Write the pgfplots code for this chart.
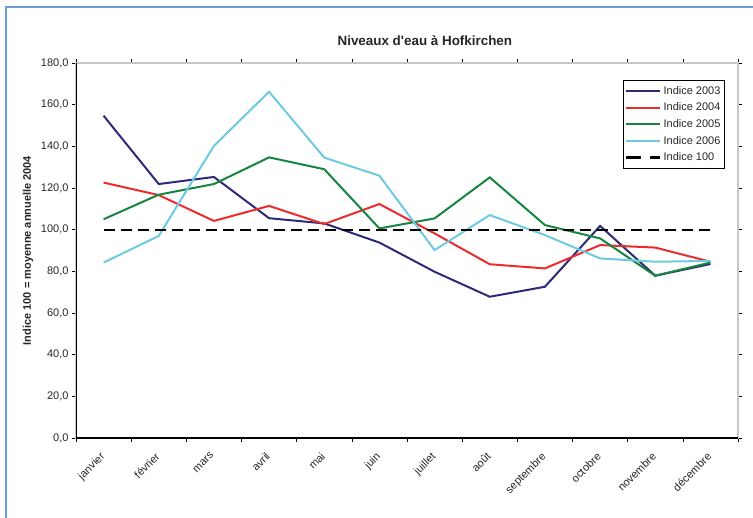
\documentclass[border=0pt]{standalone}
\usepackage{fontspec}
\setmainfont{Liberation Sans}[Ligatures=TeXOff]
\usepackage{pgfplots}
\pgfplotsset{compat=1.18}
\definecolor{c2003}{RGB}{46,42,120}
\definecolor{c2004}{RGB}{238,43,43}
\definecolor{c2005}{RGB}{21,133,63}
\definecolor{c2006}{RGB}{109,202,224}
\definecolor{frameblue}{RGB}{106,159,212}
\begin{document}
\begin{tikzpicture}
\useasboundingbox (-76bp,-80bp) rectangle (677bp,438bp);
\draw[frameblue, line width=1.5bp] (-70bp,-82bp) -- (-70bp,431bp) -- (680bp,431bp);
\begin{axis}[
  at={(0,0)}, anchor=south west,
  scale only axis, width=662bp, height=375bp,
  xmin=-0.5, xmax=11.5, ymin=0, ymax=180,
  xtick={0,...,11},
  xticklabels={janvier,février,mars,avril,mai,juin,juillet,août,septembre,octobre,novembre,décembre},
  minor xtick={-0.5,0.5,...,11.5},
  ytick={0,20,...,180},
  every major x tick/.append style={draw=none},
  tick align=outside,
  major tick length=4bp, minor tick length=4bp,
  tick style={black, line width=0.6bp},
  axis line style={draw=black!22, line width=1.2bp},
  /pgf/number format/assume math mode=true,
  yticklabel style={/pgf/number format/.cd, fixed, fixed zerofill, precision=1, use comma},
  tick label style={font=\fontsize{11bp}{13bp}\selectfont, text=black!85},
  xticklabel style={xshift=-4bp, yshift=-8bp, rotate=45, anchor=north east, inner sep=1bp},
  title={\textbf{Niveaux d'eau à Hofkirchen}},
  title style={at={(0.527,1.043)}, anchor=center, font=\fontsize{13.4bp}{15bp}\selectfont, text=black!85},
  ylabel={\textbf{Indice 100 = moyenne annuelle 2004}},
  ylabel style={at={(axis description cs:-0.0725,0.5)}, anchor=center, font=\fontsize{11bp}{13bp}\selectfont, text=black!85},
  legend style={at={(rel axis cs:0.980,0.955)}, anchor=north east, draw=black, line width=0.6bp,
    font=\fontsize{11bp}{13bp}\selectfont, inner xsep=2bp, inner ysep=4bp, row sep=3.2bp, text=black!85},
  legend cell align=left,
  legend image code/.code={\draw[#1] (0bp,0bp) -- (34bp,0bp);},
]
\addplot[c2003, line width=2bp] coordinates {(0,154.7) (1,121.9) (2,125.3) (3,105.5) (4,103.0) (5,93.8) (6,79.8) (7,67.8) (8,72.6) (9,101.8) (10,77.9) (11,83.5)};
\addlegendentry{Indice 2003}
\addplot[c2004, line width=2bp] coordinates {(0,122.6) (1,116.6) (2,104.2) (3,111.4) (4,102.7) (5,112.3) (6,98.2) (7,83.4) (8,81.4) (9,92.6) (10,91.4) (11,84.6)};
\addlegendentry{Indice 2004}
\addplot[c2005, line width=2bp] coordinates {(0,105.0) (1,116.8) (2,121.9) (3,134.7) (4,129.0) (5,100.6) (6,105.4) (7,125.1) (8,102.2) (9,95.8) (10,77.9) (11,84.2)};
\addlegendentry{Indice 2005}
\addplot[c2006, line width=2bp] coordinates {(0,84.2) (1,97.0) (2,140.2) (3,166.2) (4,134.6) (5,125.9) (6,90.2) (7,107.0) (8,97.4) (9,86.2) (10,84.6) (11,85.0)};
\addlegendentry{Indice 2006}
\addplot[black, line width=2.2bp, dash pattern=on 11bp off 6bp,
  legend image code/.code={\draw[black, line width=2.2bp, dash pattern=on 15bp off 9bp] (0bp,0bp) -- (34bp,0bp);}]
  coordinates {(0,100) (1,100) (2,100) (3,100) (4,100) (5,100) (6,100) (7,100) (8,100) (9,100) (10,100) (11,100)};
\addlegendentry{Indice 100}
\draw[black, line width=1.2bp] (rel axis cs:0,1) -- (rel axis cs:0,0) -- (rel axis cs:1,0);
\end{axis}
\end{tikzpicture}
\end{document}
